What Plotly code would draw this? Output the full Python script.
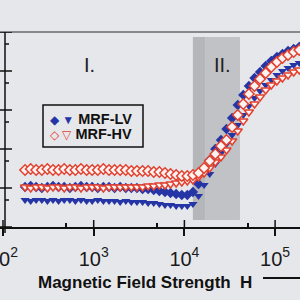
import plotly.graph_objects as go

# Magnetic field strength H (A/m), one value per measured point
H = [175, 202, 232, 268, 309, 356, 410, 473, 546, 628,
     724, 836, 962, 1109, 1279, 1476, 1698, 1959, 2259, 2600,
     2999, 3459, 3981, 4592, 5297, 6109, 7031, 8110, 9354, 10765,
     12417, 14322, 16482, 19011, 21928, 25293, 29107, 33574, 38726, 44566,
     51404, 59293, 68234, 78705, 90782, 104713, 120504, 138995, 160325, 184502]

# response (arbitrary units, y axis carries no labels)
lv_diamond = [40, 41, 40, 39, 40, 41, 40, 40, 39, 40,
              41, 40, 40, 39, 40, 40, 39, 40, 39, 39,
              39, 38, 38, 37, 36, 35, 34, 33, 32, 32,
              35, 43, 55, 67, 78, 87, 98, 109, 122, 132,
              141, 149, 155, 161, 166, 170, 173, 176, 178, 180]
lv_triangle = [27, 26, 27, 27, 26, 27, 26, 27, 27, 26,
               27, 26, 26, 27, 26, 26, 26, 25, 26, 25,
               25, 25, 24, 24, 23, 22, 22, 21, 21, 21,
               23, 31, 42, 53, 63, 74, 83, 92, 102, 112,
               121, 129, 136, 142, 147, 152, 156, 159, 162, 164]
hv_diamond = [57, 58, 57, 57, 58, 57, 57, 58, 57, 57,
              58, 57, 57, 57, 58, 57, 57, 57, 57, 56,
              56, 56, 56, 55, 55, 54, 53, 52, 51, 51,
              52, 54, 59, 66, 73, 81, 87, 100, 112, 123,
              133, 141, 148, 154, 160, 165, 169, 172, 175, 177]
hv_triangle = [40, 39, 40, 40, 39, 40, 40, 39, 40, 40,
               39, 40, 40, 40, 39, 40, 40, 40, 40, 40,
               40, 40, 41, 41, 42, 42, 43, 44, 45, 46,
               47, 50, 54, 59, 65, 70, 77, 86, 96, 106,
               115, 123, 130, 137, 142, 146, 149, 152, 155, 157]

series_names = ["MRF-LV", "MRF-HV"]
x_tick_vals = [100, 1000, 10000, 100000]
x_tick_text = ["10<sup>2</sup>", "10<sup>3</sup>", "10<sup>4</sup>", "10<sup>5</sup>"]
x_minor_vals = [500, 5000, 50000]
y_major = [0, 39, 78, 117, 156, 195]
y_minor = [27, 66, 105, 144, 183]
region_II = [12400, 16900, 41000]
region_y = [7, 190]

BLUE = "#2535a6"
RED = "#e2412f"
BG = "#e6e7eb"
FONT = "Arial, Liberation Sans, sans-serif"

fig = go.Figure()
fig.add_trace(go.Scatter(x=H, y=lv_triangle, mode="markers", name=series_names[0] + " ▼",
                         showlegend=False,
                         marker=dict(symbol="triangle-down", size=8, color=BLUE)))
fig.add_trace(go.Scatter(x=H, y=lv_diamond, mode="markers", name=series_names[0] + " ◆",
                         showlegend=False,
                         marker=dict(symbol="diamond", size=8, color=BLUE)))
fig.add_trace(go.Scatter(x=H, y=hv_triangle, mode="markers", name=series_names[1] + " ▽",
                         showlegend=False,
                         marker=dict(symbol="triangle-down", size=8, color="#fbf3f1",
                                     line=dict(color=RED, width=1.5))))
fig.add_trace(go.Scatter(x=H, y=hv_diamond, mode="markers", name=series_names[1] + " ◇",
                         showlegend=False,
                         marker=dict(symbol="diamond", size=8, color="#fbf3f1",
                                     line=dict(color=RED, width=1.5))))

shapes = []
# region II band
shapes.append(dict(type="rect", xref="x", yref="y", x0=region_II[0], x1=region_II[1],
                   y0=region_y[0], y1=region_y[1], fillcolor="#b4b6ba", line=dict(width=0),
                   layer="below"))
shapes.append(dict(type="rect", xref="x", yref="y", x0=region_II[1], x1=region_II[2],
                   y0=region_y[0], y1=region_y[1], fillcolor="#c0c2c6", line=dict(width=0),
                   layer="below"))
# top frame line
shapes.append(dict(type="line", xref="paper", yref="paper", x0=0, x1=1, y0=1, y1=1,
                   line=dict(color="#88888c", width=2)))
# y axis line and ticks
shapes.append(dict(type="line", xref="paper", yref="paper", x0=5/300, x1=5/300,
                   y0=-6/195, y1=1, line=dict(color="#111", width=1.5)))
for v in y_major:
    shapes.append(dict(type="line", xref="paper", yref="y", x0=0, x1=12/300, y0=v, y1=v,
                       line=dict(color="#111", width=1.5)))
for v in y_minor:
    shapes.append(dict(type="line", xref="paper", yref="y", x0=5/300, x1=9/300, y0=v, y1=v,
                       line=dict(color="#111", width=1.5)))
# inner part of the major x ticks
for v in x_tick_vals:
    shapes.append(dict(type="line", xref="x", yref="paper", x0=v, x1=v, y0=0, y1=7/195,
                       line=dict(color="#111", width=1.5)))
# legend frame
shapes.append(dict(type="rect", xref="paper", yref="paper", x0=43/300, x1=143/300,
                   y0=(227-147)/195, y1=(227-105)/195, line=dict(color="#111", width=1.5),
                   fillcolor=BG, layer="below"))
# arrow line after axis title
shapes.append(dict(type="line", xref="paper", yref="paper", ysizemode="pixel", yanchor=0,
                   x0=263/300, x1=1.0, y0=-51, y1=-51, line=dict(color="#111", width=2)))

annotations = [
    dict(text="<b>Magnetic Field Strength  H</b>", xref="paper", yref="paper",
         x=36/300, y=0, yshift=-55, xanchor="left", yanchor="middle", showarrow=False,
         font=dict(family=FONT, size=17, color="#111")),
    dict(text="I.", xref="paper", yref="paper", x=89/300, y=162/195, xanchor="center",
         yanchor="middle", showarrow=False, font=dict(family=FONT, size=20, color="#222")),
    dict(text="II.", xref="paper", yref="paper", x=222/300, y=162/195, xanchor="center",
         yanchor="middle", showarrow=False, font=dict(family=FONT, size=20, color="#222")),
    # legend rows
    dict(text='<span style="color:%s;font-size:12px">◆ ▼</span> <b>%s</b>' % (BLUE, series_names[0]),
         xref="paper", yref="paper", x=48/300, y=(227-119)/195, xanchor="left",
         yanchor="middle", showarrow=False, font=dict(family=FONT, size=14.5, color="#111")),
    dict(text='<span style="color:%s;font-size:12px">◇ ▽</span> <b>%s</b>' % (RED, series_names[1]),
         xref="paper", yref="paper", x=48/300, y=(227-134)/195, xanchor="left",
         yanchor="middle", showarrow=False, font=dict(family=FONT, size=14.5, color="#111")),
]

fig.update_layout(
    width=300, height=300,
    margin=dict(l=0, r=0, t=32, b=73, pad=0, autoexpand=False),
    paper_bgcolor=BG, plot_bgcolor=BG,
    showlegend=False,
    shapes=shapes, annotations=annotations,
    xaxis=dict(type="log", range=[1.967, 5.2745], showline=True, linecolor="#111",
               linewidth=1.5, ticks="outside", ticklen=7, tickwidth=1.5, tickcolor="#111",
               tickvals=x_tick_vals, ticktext=x_tick_text, showgrid=False, zeroline=False,
               automargin=False, ticklabeloverflow="allow", ticklabelstandoff=6,
               tickfont=dict(family=FONT, size=20, color="#1a1a1a"),
               minor=dict(tickvals=x_minor_vals, ticks="inside", ticklen=4, tickwidth=1.5,
                          tickcolor="#111", showgrid=False)),
    yaxis=dict(range=[0, 195], showticklabels=False, ticks="", showgrid=False,
               zeroline=False, showline=False, automargin=False),
)

fig.write_html("out.html")
